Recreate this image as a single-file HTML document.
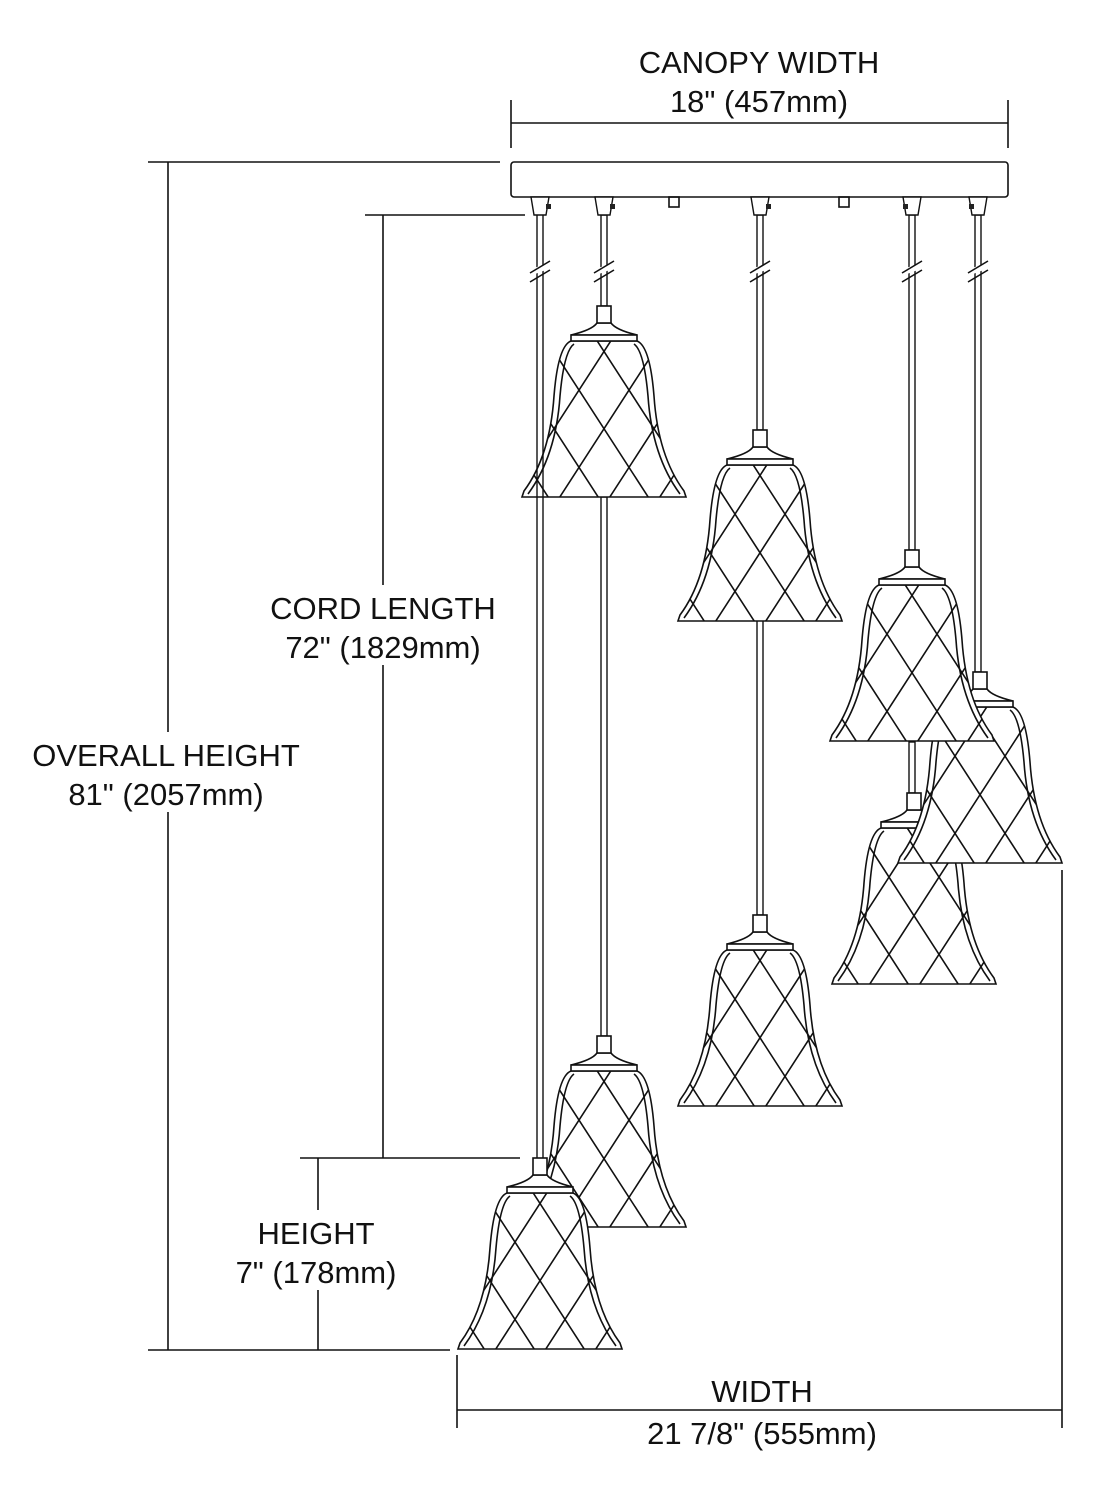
<!DOCTYPE html>
<html><head><style>
html,body{margin:0;padding:0;background:#fff}
svg{display:block}
text{font-family:"Liberation Sans",sans-serif;font-size:31px;fill:#111;text-anchor:middle}
</style></head><body>
<svg width="1093" height="1500" viewBox="0 0 1093 1500" xmlns="http://www.w3.org/2000/svg">
<defs>
<clipPath id="bc"><path d="M-33 35 Q-46 40 -50 90 Q-54 150 -80 185 L-82 191 L82 191 L80 185 Q54 150 50 90 Q46 40 33 35 Z"/></clipPath>
<g id="bell" stroke="#111" stroke-width="1.6" fill="#fff">
<path d="M-33 35 Q-46 40 -50 90 Q-54 150 -80 185 L-82 191 L82 191 L80 185 Q54 150 50 90 Q46 40 33 35 Z"/>
<path fill="none" d="M-30 38 Q-40 45 -44 90 Q-48 150 -76 188 M30 38 Q40 45 44 90 Q48 150 76 188"/>
<g clip-path="url(#bc)" fill="none">
<path d="M-110 30 L0 200 M-60 30 L50 200 M-10 30 L100 200 M40 30 L150 200 M-160 30 L-50 200
M110 30 L0 200 M60 30 L-50 200 M10 30 L-100 200 M-40 30 L-150 200 M160 30 L50 200"/>
</g>
<path d="M-7 17 Q-12 24 -33 29 L33 29 Q12 24 7 17 Z"/>
<rect x="-33" y="29" width="66" height="6"/>
<rect x="-7" y="0" width="14" height="17"/>
</g>
</defs>
<g stroke="#111" stroke-width="1.6" fill="none">
<line x1="511" y1="100" x2="511" y2="148"/><line x1="1008" y1="100" x2="1008" y2="148"/>
<line x1="511" y1="123" x2="1008" y2="123"/>
<line x1="148" y1="162" x2="500" y2="162"/><line x1="148" y1="1350" x2="450" y2="1350"/>
<line x1="168" y1="162" x2="168" y2="1350"/>
<line x1="365" y1="215" x2="525" y2="215"/><line x1="383" y1="215" x2="383" y2="1158"/>
<line x1="300" y1="1158" x2="520" y2="1158"/><line x1="318" y1="1158" x2="318" y2="1350"/>
<line x1="457" y1="1355" x2="457" y2="1428"/><line x1="1062" y1="870" x2="1062" y2="1428"/>
<line x1="457" y1="1410" x2="1062" y2="1410"/>
<rect x="511" y="162" width="497" height="35" rx="3" fill="#fff"/>
<rect x="669" y="197" width="10" height="10"/><rect x="839" y="197" width="10" height="10"/>
</g>
<g fill="#fff">
<rect x="255" y="585" width="255" height="80"/>
<rect x="20" y="732" width="295" height="80"/>
<rect x="240" y="1210" width="160" height="80"/>
</g>
<g stroke="#111" stroke-width="1.4" fill="#fff">
<rect x="601" y="215" width="6" height="91"/>
<rect x="757" y="215" width="6" height="215"/>
<rect x="909" y="215" width="6" height="335"/>
<rect x="975" y="215" width="6" height="457"/>
<rect x="601" y="497" width="6" height="539"/>
<rect x="757" y="620" width="6" height="295"/>
<rect x="909" y="742" width="6" height="51"/>
</g>
<g stroke="#111" stroke-width="1.4" fill="#fff">
<path d="M531 197 L549 197 L546 215 L534 215 Z"/><path d="M595 197 L613 197 L610 215 L598 215 Z"/>
<path d="M751 197 L769 197 L766 215 L754 215 Z"/><path d="M903 197 L921 197 L918 215 L906 215 Z"/>
<path d="M969 197 L987 197 L984 215 L972 215 Z"/>
</g>
<g fill="#222"><rect x="546" y="204" width="5" height="5"/><rect x="610" y="204" width="5" height="5"/><rect x="766" y="204" width="5" height="5"/><rect x="903" y="204" width="5" height="5"/><rect x="969" y="204" width="5" height="5"/></g>
<use href="#bell" x="760" y="915"/>
<use href="#bell" x="914" y="793"/>
<use href="#bell" x="980" y="672"/>
<use href="#bell" x="912" y="550"/>
<use href="#bell" x="760" y="430"/>
<use href="#bell" x="604" y="306"/>
<use href="#bell" x="604" y="1036"/>
<g stroke="#111" stroke-width="1.4" fill="none">
<line x1="537" y1="215" x2="537" y2="1158"/><line x1="543" y1="215" x2="543" y2="1158"/>
</g>
<use href="#bell" x="540" y="1158"/>
<g stroke="#fff" stroke-width="6">
<line x1="532" y1="272" x2="548" y2="266"/><line x1="596" y1="272" x2="612" y2="266"/><line x1="752" y1="272" x2="768" y2="266"/><line x1="904" y1="272" x2="920" y2="266"/><line x1="970" y1="272" x2="986" y2="266"/>
</g>
<g stroke="#111" stroke-width="1.6">
<line x1="530" y1="273" x2="550" y2="261"/><line x1="530" y1="282" x2="550" y2="270"/>
<line x1="594" y1="273" x2="614" y2="261"/><line x1="594" y1="282" x2="614" y2="270"/>
<line x1="750" y1="273" x2="770" y2="261"/><line x1="750" y1="282" x2="770" y2="270"/>
<line x1="902" y1="273" x2="922" y2="261"/><line x1="902" y1="282" x2="922" y2="270"/>
<line x1="968" y1="273" x2="988" y2="261"/><line x1="968" y1="282" x2="988" y2="270"/>
</g>
<text x="759" y="73">CANOPY WIDTH</text><text x="759" y="112">18" (457mm)</text>
<text x="383" y="619">CORD LENGTH</text><text x="383" y="658">72" (1829mm)</text>
<text x="166" y="766">OVERALL HEIGHT</text><text x="166" y="805">81" (2057mm)</text>
<text x="316" y="1244">HEIGHT</text><text x="316" y="1283">7" (178mm)</text>
<text x="762" y="1402">WIDTH</text><text x="762" y="1444">21 7/8" (555mm)</text>
</svg>
</body></html>
